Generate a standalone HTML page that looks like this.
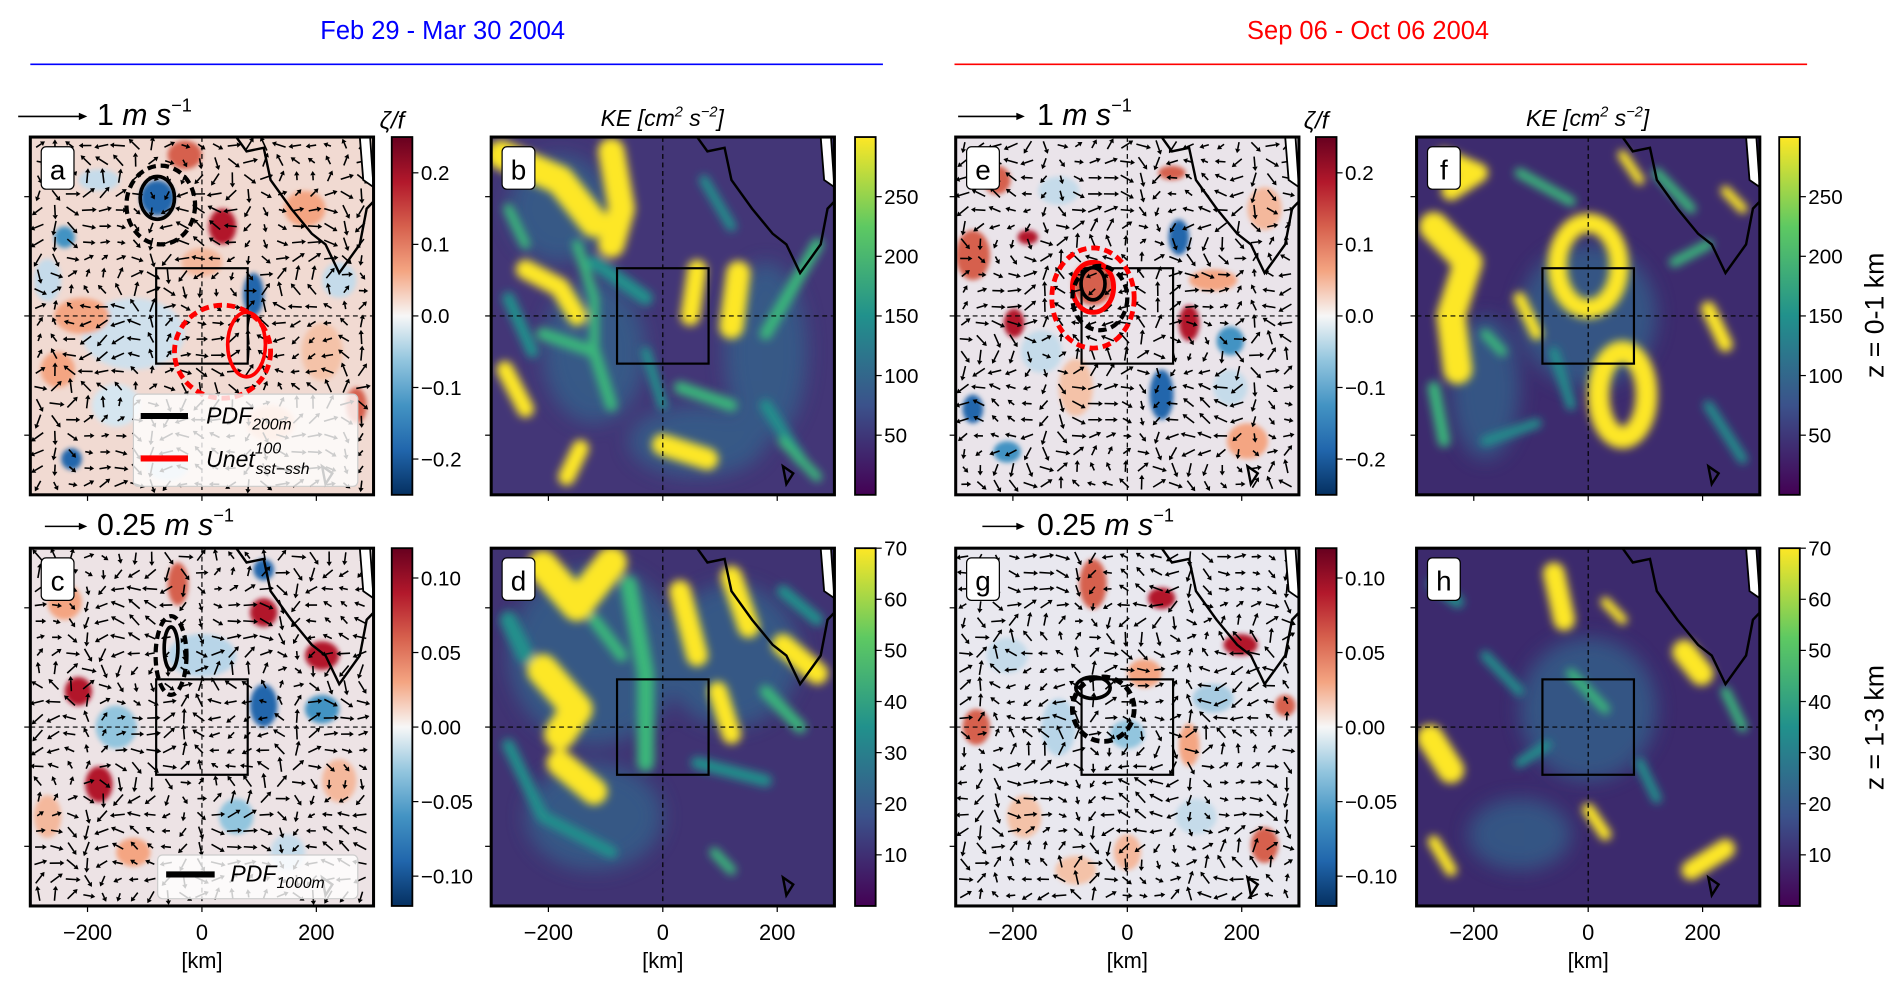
<!DOCTYPE html>
<html><head><meta charset="utf-8"><style>
html,body{margin:0;padding:0;background:#fff;}
svg{display:block;font-family:"Liberation Sans","DejaVu Sans",sans-serif;}
</style></head><body>
<svg id="fig" width="1892" height="986" viewBox="0 0 1560 813" preserveAspectRatio="none" xmlns="http://www.w3.org/2000/svg">
<defs>
<linearGradient id="rdbu" x1="0" y1="0" x2="0" y2="1">
<stop offset="0" stop-color="#67001f"/><stop offset="0.125" stop-color="#b2182b"/><stop offset="0.25" stop-color="#d6604d"/><stop offset="0.375" stop-color="#f4a582"/><stop offset="0.5" stop-color="#f7f7f7"/><stop offset="0.625" stop-color="#92c5de"/><stop offset="0.75" stop-color="#4393c3"/><stop offset="0.875" stop-color="#2166ac"/><stop offset="1" stop-color="#053061"/>
</linearGradient>
<linearGradient id="viri" x1="0" y1="0" x2="0" y2="1">
<stop offset="0" stop-color="#fde725"/><stop offset="0.25" stop-color="#5ec962"/><stop offset="0.5" stop-color="#21918c"/><stop offset="0.75" stop-color="#3b528b"/><stop offset="1" stop-color="#440154"/>
</linearGradient>
<filter id="blur4" x="-20%" y="-20%" width="140%" height="140%"><feGaussianBlur stdDeviation="3.5"/></filter>
<filter id="blur8" x="-20%" y="-20%" width="140%" height="140%"><feGaussianBlur stdDeviation="8"/></filter>
<filter id="blur2" x="-20%" y="-20%" width="140%" height="140%"><feGaussianBlur stdDeviation="2"/></filter>
</defs>
<text x="365" y="32" font-size="21" fill="#0000ff" text-anchor="middle">Feb 29 - Mar 30 2004</text>
<line x1="25" y1="53" x2="728" y2="53" stroke="#0000ff" stroke-width="1.3"/>
<text x="1128" y="32" font-size="21" fill="#ff0000" text-anchor="middle">Sep 06 - Oct 06 2004</text>
<line x1="787" y1="53" x2="1490" y2="53" stroke="#ff0000" stroke-width="1.3"/>
<g id="content"></g>
</svg>
<script>
const NS='http://www.w3.org/2000/svg';
const root=document.getElementById('content');
function mk(tag,attrs,parent){const e=document.createElementNS(NS,tag);for(const k in attrs)e.setAttribute(k,attrs[k]);(parent||root).appendChild(e);return e;}

// Axis data
const xTicks=[-200,0,200];
const xRange=[-300,300];
const vortTicksTop=[0.2,0.1,0.0,-0.1,-0.2];
const vortTicksTopLabels=['0.2','0.1','0.0','\u22120.1','\u22120.2'];
const vortRangeTop=[-0.25,0.25];
const vortTicksBot=[0.10,0.05,0.00,-0.05,-0.10];
const vortTicksBotLabels=['0.10','0.05','0.00','\u22120.05','\u22120.10'];
const vortRangeBot=[-0.12,0.12];
const keTicksTop=[250,200,150,100,50];
const keRangeTop=[0,300];
const keTicksBot=[70,60,50,40,30,20,10];
const keRangeBot=[0,70];

const ROW=[113,452], PH=295, PW=283;
const panels=[
 {id:'a',x:25,row:0,type:'v',cb:323},
 {id:'b',x:405,row:0,type:'k',cb:705},
 {id:'e',x:788,row:0,type:'v',cb:1085},
 {id:'f',x:1168,row:0,type:'k',cb:1467},
 {id:'c',x:25,row:1,type:'v',cb:323},
 {id:'d',x:405,row:1,type:'k',cb:705},
 {id:'g',x:788,row:1,type:'v',cb:1085},
 {id:'h',x:1168,row:1,type:'k',cb:1467}
];

const vortBg={a:'#f1dad2',c:'#ede3e5',e:'#eae4ea',g:'#e9e8ef'};
const vortBlobs={
 a:[[0.37,0.17,0.05,0.05,'#2166ac'],[0.56,0.25,0.04,0.05,'#b2182b'],[0.65,0.44,0.03,0.06,'#2166ac'],[0.1,0.28,0.03,0.03,'#4393c3'],[0.12,0.9,0.03,0.03,'#2166ac'],
    [0.3,0.55,0.15,0.1,'#cfe0ec'],[0.15,0.5,0.08,0.05,'#f4a582'],[0.8,0.2,0.06,0.05,'#f4a582'],[0.85,0.6,0.06,0.08,'#f4c2a8'],[0.25,0.75,0.07,0.06,'#d6e6f0'],[0.7,0.8,0.07,0.05,'#f4b89c'],[0.08,0.65,0.05,0.05,'#f4a582'],[0.45,0.05,0.05,0.04,'#d6604d'],
    [0.2,0.12,0.06,0.03,'#c5dbea'],[0.9,0.4,0.05,0.05,'#c5dbea'],[0.5,0.35,0.06,0.04,'#f4b89c'],[0.05,0.4,0.04,0.06,'#c5dbea'],[0.95,0.75,0.03,0.05,'#d6604d'],[0.4,0.92,0.06,0.04,'#c5dbea']],
 c:[[0.14,0.4,0.04,0.04,'#b2182b'],[0.2,0.66,0.04,0.05,'#b2182b'],[0.43,0.1,0.03,0.06,'#d6604d'],[0.68,0.18,0.04,0.04,'#b2182b'],[0.85,0.3,0.05,0.04,'#b2182b'],
    [0.68,0.44,0.04,0.06,'#2166ac'],[0.68,0.06,0.03,0.03,'#2166ac'],[0.25,0.5,0.06,0.06,'#92c5de'],[0.5,0.3,0.1,0.06,'#b8d5e8'],[0.85,0.45,0.05,0.04,'#4393c3'],[0.6,0.75,0.05,0.05,'#92c5de'],[0.1,0.15,0.05,0.05,'#f4a582'],[0.9,0.65,0.05,0.06,'#f4b89c'],
    [0.3,0.85,0.05,0.04,'#f4a582'],[0.75,0.85,0.05,0.05,'#c5dbea'],[0.05,0.75,0.04,0.06,'#f4b89c']],
 e:[[0.65,0.28,0.03,0.05,'#2166ac'],[0.6,0.72,0.035,0.07,'#2166ac'],[0.05,0.76,0.03,0.04,'#2166ac'],[0.8,0.57,0.04,0.04,'#4393c3'],[0.15,0.88,0.04,0.03,'#4393c3'],
    [0.05,0.33,0.05,0.07,'#d6604d'],[0.4,0.41,0.06,0.06,'#d6604d'],[0.68,0.52,0.03,0.05,'#b2182b'],[0.21,0.28,0.03,0.02,'#b2182b'],[0.17,0.52,0.03,0.04,'#b2182b'],[0.63,0.1,0.04,0.02,'#d6604d'],[0.75,0.4,0.07,0.03,'#f4a582'],[0.85,0.85,0.06,0.05,'#f4a582'],[0.35,0.7,0.05,0.08,'#f4c2a8'],
    [0.12,0.12,0.04,0.04,'#d6604d'],[0.3,0.15,0.06,0.04,'#c5dbea'],[0.9,0.2,0.05,0.06,'#f4b89c'],[0.25,0.6,0.06,0.06,'#c5dbea'],[0.8,0.7,0.05,0.05,'#c5dbea']],
 g:[[0.4,0.1,0.04,0.07,'#d6604d'],[0.6,0.14,0.04,0.03,'#b2182b'],[0.83,0.27,0.05,0.03,'#b2182b'],[0.06,0.5,0.04,0.05,'#d6604d'],[0.96,0.44,0.03,0.03,'#d6604d'],[0.9,0.83,0.04,0.05,'#d6604d'],
    [0.5,0.52,0.05,0.04,'#92c5de'],[0.3,0.5,0.05,0.08,'#b8d5e8'],[0.75,0.42,0.06,0.04,'#a8cce2'],[0.55,0.35,0.05,0.04,'#f4a582'],[0.68,0.55,0.03,0.06,'#f4a582'],[0.5,0.85,0.04,0.05,'#f4b89c'],
    [0.15,0.3,0.06,0.05,'#c5dbea'],[0.2,0.75,0.05,0.06,'#f4c2a8'],[0.7,0.75,0.06,0.05,'#c5dbea'],[0.35,0.9,0.06,0.04,'#f4c2a8']]
};
const Y='#fde725',G='#3ab77a',T='#21918c',B='#31688e';
const keBg={b:'#433677',d:'#403373',f:'#3d2b6e',h:'#3c2a6d'};
const keHaze={
 b:[[0.3,0.6,0.15,0.2],[0.8,0.6,0.12,0.25],[0.2,0.2,0.15,0.15],[0.6,0.85,0.2,0.1]],
 d:[[0.3,0.3,0.25,0.25],[0.7,0.3,0.2,0.2],[0.3,0.75,0.2,0.15]],
 f:[[0.5,0.5,0.2,0.2],[0.2,0.7,0.1,0.2]],
 h:[[0.5,0.45,0.2,0.2],[0.3,0.8,0.15,0.1]]
};
const keStrokes={
 b:[[[0.03,0.05,0.2,0.12,0.3,0.24],24,Y],[[0.35,0.04,0.38,0.2,0.35,0.3],22,Y],[[0.6,0.37,0.58,0.5],16,Y],[[0.72,0.38,0.7,0.53],20,Y],[[0.1,0.37,0.2,0.42,0.25,0.5],16,Y],[[0.04,0.65,0.1,0.76],14,Y],[[0.26,0.87,0.22,0.95],14,Y],[[0.5,0.86,0.63,0.9],18,Y],
    [[0.15,0.55,0.3,0.6,0.35,0.75],10,G],[[0.8,0.55,0.95,0.3],10,G],[[0.55,0.7,0.7,0.75],10,G],[[0.05,0.2,0.1,0.3],8,G],[[0.62,0.12,0.7,0.25],8,T],[[0.3,0.35,0.45,0.45],12,T],[[0.8,0.75,0.9,0.9],10,T],[[0.05,0.45,0.12,0.6],10,T],
    [[0.25,0.3,0.3,0.45,0.3,0.6],8,G],[[0.85,0.85,0.95,0.95],8,G],[[0.45,0.6,0.5,0.75],8,T]],
 d:[[[0.15,0.05,0.25,0.16,0.35,0.04],26,Y],[[0.15,0.34,0.25,0.45,0.2,0.52],26,Y],[[0.2,0.6,0.3,0.68],22,Y],[[0.55,0.12,0.6,0.3],18,Y],[[0.7,0.08,0.75,0.22],18,Y],[[0.85,0.27,0.95,0.35],18,Y],[[0.66,0.4,0.7,0.52],16,Y],
    [[0.4,0.1,0.45,0.35,0.45,0.6],14,G],[[0.05,0.55,0.15,0.75,0.35,0.85],10,T],[[0.6,0.6,0.8,0.65],10,T],[[0.65,0.85,0.7,0.9],8,G],[[0.05,0.2,0.1,0.3],14,T],[[0.85,0.12,0.95,0.2],10,T],[[0.3,0.2,0.38,0.3],10,G],[[0.8,0.4,0.9,0.5],10,G]],
 f:[[[0.05,0.25,0.15,0.35,0.1,0.5,0.12,0.65],24,Y],[[0.08,0.06,0.18,0.1,0.1,0.15],16,Y],[[0.3,0.45,0.35,0.55],10,Y],[[0.85,0.48,0.9,0.58],12,Y],[[0.05,0.7,0.08,0.85],10,G],
    [[0.3,0.1,0.45,0.18],8,G],[[0.7,0.1,0.8,0.2],8,G],[[0.75,0.35,0.85,0.3],8,G],[[0.2,0.85,0.35,0.8],8,T],[[0.85,0.75,0.95,0.9],8,T],[[0.4,0.6,0.45,0.75],8,T],
    [[0.6,0.05,0.65,0.12],8,Y],[[0.9,0.15,0.95,0.2],8,Y],[[0.2,0.55,0.25,0.6],8,G]],
 h:[[[0.4,0.07,0.43,0.2],18,Y],[[0.78,0.29,0.83,0.35],20,Y],[[0.04,0.53,0.1,0.62],22,Y],[[0.05,0.82,0.1,0.9],10,Y],[[0.9,0.84,0.8,0.9],16,Y],[[0.5,0.73,0.55,0.8],10,Y],
    [[0.55,0.15,0.6,0.2],8,Y],[[0.2,0.3,0.3,0.4],8,T],[[0.45,0.35,0.55,0.45],8,G],[[0.05,0.1,0.12,0.15],10,T],[[0.9,0.4,0.95,0.5],8,G],[[0.65,0.6,0.7,0.7],8,T],[[0.3,0.6,0.38,0.55],8,T]]
};
const contours={
 a:[[0.37,0.17,0.05,0.06,'#000',0,3],[0.38,0.19,0.1,0.11,'#000',1,3.5],[0.63,0.58,0.055,0.09,'#f00',0,3],[0.56,0.6,0.14,0.13,'#f00',1,4]],
 e:[[0.4,0.41,0.035,0.045,'#000',0,3],[0.4,0.42,0.06,0.07,'#f00',0,4],[0.42,0.45,0.08,0.09,'#000',1,3.5],[0.4,0.45,0.12,0.14,'#f00',1,4]],
 c:[[0.41,0.28,0.02,0.06,'#000',0,3],[0.41,0.3,0.045,0.11,'#000',1,3.5]],
 g:[[0.4,0.39,0.05,0.03,'#000',0,3],[0.43,0.45,0.09,0.09,'#000',1,4]]
};

function tickLabelY(val,range,y0){return y0+PH*(range[1]-val)/(range[1]-range[0]);}

panels.forEach(p=>{
 const y0=ROW[p.row];
 const g=mk('g',{});
 
 
 const cp=mk('clipPath',{id:'clip'+p.id},g);
 mk('rect',{x:p.x,y:y0,width:PW,height:PH},cp);
 const inner=mk('g',{'clip-path':'url(#clip'+p.id+')'},g);
 const U=u=>p.x+u*PW, V=v=>y0+v*PH;
 if(p.type==='v'){
  mk('rect',{x:p.x,y:y0,width:PW,height:PH,fill:vortBg[p.id]},inner);
  const bg=mk('g',{filter:'url(#blur2)'},inner);
  vortBlobs[p.id].forEach(b=>{
   const e=mk('ellipse',{cx:U(b[0]),cy:V(b[1]),rx:b[2]*PW,ry:b[3]*PH,fill:b[4]},bg);
   
   
  });
  const qg=mk('g',{stroke:'#000','stroke-width':1.3,fill:'#000'},inner);
  
  
  const seed=p.id.charCodeAt(0);
  for(let i=0;i<21;i++)for(let j=0;j<22;j++){
   const x=p.x+7+i*13.3, y=y0+7+j*13.3;
   const a=Math.sin(i*0.5+seed)*2+Math.cos(j*0.45+seed*0.3)*2;
   const L=3+6*Math.abs(Math.sin(i*0.37+j*0.29+seed));
   const dx=Math.cos(a)*L, dy=Math.sin(a)*L;
   mk('line',{x1:x-dx/2,y1:y-dy/2,x2:x+dx/2,y2:y+dy/2},qg);
   const hx=x+dx/2,hy=y+dy/2,ux=dx/L,uy=dy/L;
   mk('polygon',{points:`${hx+ux*3.5},${hy+uy*3.5} ${hx-uy*2.2},${hy+ux*2.2} ${hx+uy*2.2},${hy-ux*2.2}`,stroke:'none'},qg);
  }
 } else {
  mk('rect',{x:p.x,y:y0,width:PW,height:PH,fill:keBg[p.id]},inner);
  const hg=mk('g',{filter:'url(#blur8)',fill:B,opacity:0.7},inner);
  keHaze[p.id].forEach(h=>{mk('ellipse',{cx:U(h[0]),cy:V(h[1]),rx:h[2]*PW,ry:h[3]*PH},hg);});
  const kg=mk('g',{filter:'url(#blur4)',fill:'none','stroke-linecap':'round','stroke-linejoin':'round'},inner);
  keStrokes[p.id].forEach(s=>{
   const pts=[];for(let k=0;k<s[0].length;k+=2)pts.push(U(s[0][k])+','+V(s[0][k+1]));
   const e=mk('polyline',{points:pts.join(' '),stroke:s[2],'stroke-width':s[1]},kg);
   
   
  });
  if(p.id==='f'){
   mk('ellipse',{cx:U(0.5),cy:V(0.36),rx:0.09*PW,ry:0.12*PH,fill:'none',stroke:Y,'stroke-width':16},kg);
   mk('ellipse',{cx:U(0.6),cy:V(0.72),rx:0.07*PW,ry:0.12*PH,fill:'none',stroke:Y,'stroke-width':18},kg);
  }
 }
 const coast=mk('path',{d:`M${U(0.6)},${V(0)} L${U(0.63)},${V(0.04)} L${U(0.68)},${V(0.03)} L${U(0.7)},${V(0.12)} L${U(0.76)},${V(0.2)} L${U(0.82)},${V(0.27)} L${U(0.86)},${V(0.3)} L${U(0.9)},${V(0.38)} L${U(0.96)},${V(0.3)} L${U(0.98)},${V(0.2)} L${U(1)},${V(0.18)}`,fill:'none',stroke:'#000','stroke-width':2},inner);
 
 
 mk('path',{d:`M${U(0.96)},${V(0)} L${U(0.99)},${V(0)} L${U(1)},${V(0.14)} L${U(0.97)},${V(0.12)} Z`,fill:'#fff',stroke:'#000','stroke-width':1.5},inner);
 mk('path',{d:`M${U(0.85)},${V(0.92)} L${U(0.88)},${V(0.94)} L${U(0.86)},${V(0.97)} Z`,fill:'none',stroke:'#000','stroke-width':2},inner);
 mk('line',{x1:p.x,y1:V(0.5),x2:p.x+PW,y2:V(0.5),stroke:'#000','stroke-width':1,'stroke-dasharray':'4,3'},inner);
 mk('line',{x1:U(0.5),y1:y0,x2:U(0.5),y2:y0+PH,stroke:'#000','stroke-width':1,'stroke-dasharray':'4,3'},inner);
 const bx=mk('rect',{x:U((-80-xRange[0])/600),y:V((300-80)/600),width:160/600*PW,height:160/600*PH,fill:'none',stroke:'#000','stroke-width':1.8},inner);
 
 
 (contours[p.id]||[]).forEach(c=>{
  const e=mk('ellipse',{cx:U(c[0]),cy:V(c[1]),rx:c[2]*PW,ry:c[3]*PH,fill:'none',stroke:c[4],'stroke-width':c[6]},inner);
  if(c[5])e.setAttribute('stroke-dasharray','7,4');
  
  
 });
 mk('rect',{x:p.x,y:y0,width:PW,height:PH,fill:'none',stroke:'#000','stroke-width':2.5},g);
 const lb=mk('g',{},g);
 
 
 mk('rect',{x:p.x+9,y:y0+8,width:27,height:35,rx:4,fill:'#fff',stroke:'#000','stroke-width':1},lb);
 const lt=mk('text',{x:p.x+22.5,y:y0+35,'font-size':23,'text-anchor':'middle'},lb);lt.textContent=p.id;
 xTicks.forEach(t=>{
  const x=p.x+PW*(t-xRange[0])/(xRange[1]-xRange[0]);
  mk('line',{x1:x,y1:y0+PH,x2:x,y2:y0+PH+5,stroke:'#000','stroke-width':1},g);
  const yy=y0+PH*(300-t)/600;
  mk('line',{x1:p.x,y1:yy,x2:p.x-5,y2:yy,stroke:'#000','stroke-width':1},g);
  if(p.row===1){
   const tx=mk('text',{x:x,y:y0+PH+28,'font-size':18,'text-anchor':'middle'},g);
   
   
   tx.textContent=(t<0?'\u2212'+(-t):''+t);
  }
 });
 if(p.row===1){
  const xl=mk('text',{x:p.x+PW/2,y:y0+PH+51,'font-size':18,'text-anchor':'middle'},g);
  
  
  xl.textContent='[km]';
 }
 const cb=mk('g',{},g);
 
 
 mk('rect',{x:p.cb,y:y0,width:17,height:PH,fill:p.type==='v'?'url(#rdbu)':'url(#viri)',stroke:'#000','stroke-width':1.5},cb);
 let ticks,labels,range;
 if(p.type==='v'){ticks=p.row?vortTicksBot:vortTicksTop;labels=p.row?vortTicksBotLabels:vortTicksTopLabels;range=p.row?vortRangeBot:vortRangeTop;}
 else{ticks=p.row?keTicksBot:keTicksTop;labels=ticks.map(String);range=p.row?keRangeBot:keRangeTop;}
 ticks.forEach((t,i)=>{
  const yy=tickLabelY(t,range,y0);
  mk('line',{x1:p.cb+17,y1:yy,x2:p.cb+22,y2:yy,stroke:'#000','stroke-width':1},cb);
  const tx=mk('text',{x:p.cb+24,y:yy+6,'font-size':17},cb);
  
  
  tx.textContent=labels[i];
 });
});

function txt(name,x,y,html,attrs){const t=mk('text',Object.assign({x:x,y:y},attrs||{}));t.innerHTML=html;return t;}
function arrow(name,x1,x2,y){const g=mk('g',{});mk('line',{x1:x1,y1:y,x2:x2-5,y2:y,stroke:'#000','stroke-width':1.3},g);mk('polygon',{points:`${x2},${y} ${x2-7},${y-3} ${x2-7},${y+3}`},g);}
arrow('quiver-key-arrow-a',15,72,96);
txt('quiver-key-label-a',80,103,'1 <tspan font-style="italic">m s</tspan><tspan font-size="15" dy="-11">\u22121</tspan>',{'font-size':25});
arrow('quiver-key-arrow-e',790,845,96);
txt('quiver-key-label-e',855,103,'1 <tspan font-style="italic">m s</tspan><tspan font-size="15" dy="-11">\u22121</tspan>',{'font-size':25});
arrow('quiver-key-arrow-c',37,72,434);
txt('quiver-key-label-c',80,441,'0.25 <tspan font-style="italic">m s</tspan><tspan font-size="15" dy="-11">\u22121</tspan>',{'font-size':25});
arrow('quiver-key-arrow-g',810,845,434);
txt('quiver-key-label-g',855,441,'0.25 <tspan font-style="italic">m s</tspan><tspan font-size="15" dy="-11">\u22121</tspan>',{'font-size':25});
txt('colorbar-title-a',313,106,'\u03b6/<tspan font-style="italic">f</tspan>',{'font-size':20,'font-style':'italic'});
txt('colorbar-title-e',1075,106,'\u03b6/<tspan font-style="italic">f</tspan>',{'font-size':20,'font-style':'italic'});
txt('ke-title-b',546,104,'KE [cm<tspan font-size="12" dy="-8">2</tspan><tspan dy="8"> s</tspan><tspan font-size="12" dy="-8">\u22122</tspan><tspan dy="8">]</tspan>',{'font-size':19,'font-style':'italic','text-anchor':'middle'});
txt('ke-title-f',1309,104,'KE [cm<tspan font-size="12" dy="-8">2</tspan><tspan dy="8"> s</tspan><tspan font-size="12" dy="-8">\u22122</tspan><tspan dy="8">]</tspan>',{'font-size':19,'font-style':'italic','text-anchor':'middle'});
txt('row-label-top',1553,260,'z = 0-1 km',{'font-size':22,'text-anchor':'middle',transform:'rotate(-90 1553 260)'});
txt('row-label-bottom',1553,600,'z = 1-3 km',{'font-size':22,'text-anchor':'middle',transform:'rotate(-90 1553 600)'});

const la=mk('g',{});
mk('rect',{x:110,y:325,width:185,height:76,rx:4,fill:'#fff','fill-opacity':0.8,stroke:'#ccc'},la);
mk('line',{x1:116,y1:343,x2:155,y2:343,stroke:'#000','stroke-width':5},la);
mk('line',{x1:116,y1:378,x2:155,y2:378,stroke:'#f00','stroke-width':5},la);
const l1=mk('text',{x:170,y:349,'font-size':19,'font-style':'italic'},la);l1.innerHTML='PDF<tspan font-size="13" dy="5">200m</tspan>';
const l2=mk('text',{x:170,y:385,'font-size':19,'font-style':'italic'},la);l2.innerHTML='Unet<tspan font-size="13" dy="-11">100</tspan><tspan font-size="13" dx="-21" dy="17">sst\u2212ssh</tspan>';
const lc=mk('g',{});
mk('rect',{x:130,y:705,width:165,height:36,rx:4,fill:'#fff','fill-opacity':0.8,stroke:'#ccc'},lc);
mk('line',{x1:137,y1:721,x2:177,y2:721,stroke:'#000','stroke-width':5},lc);
const l3=mk('text',{x:190,y:727,'font-size':19,'font-style':'italic'},lc);l3.innerHTML='PDF<tspan font-size="13" dy="5">1000m</tspan>';
</script>
</body></html>
